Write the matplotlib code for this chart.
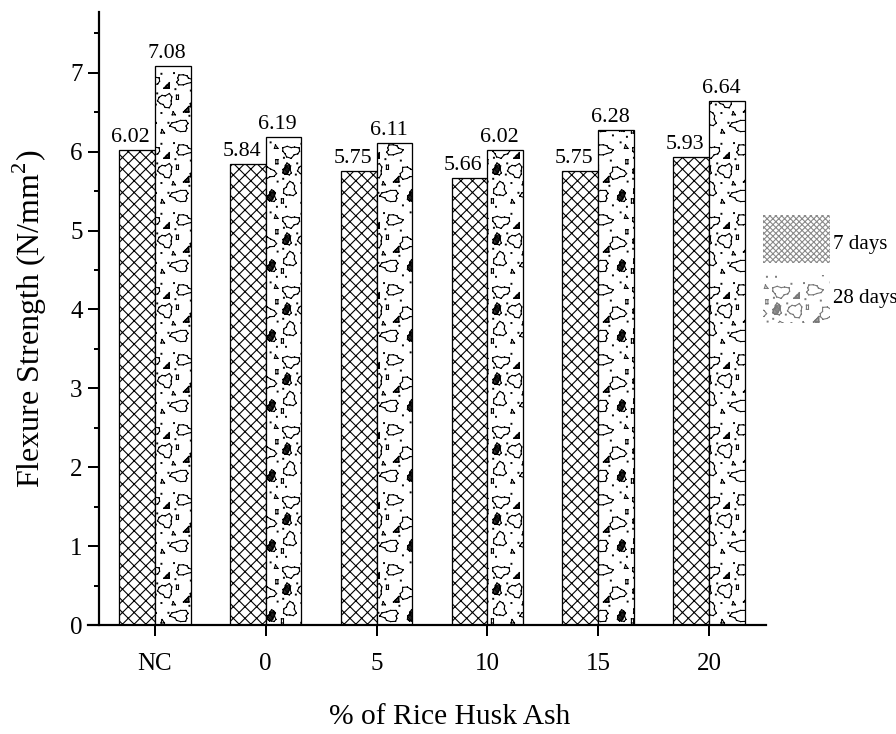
import numpy as np
import matplotlib
matplotlib.use("Agg")
import matplotlib.pyplot as plt
import matplotlib.hatch as mhatch
from matplotlib.path import Path
from matplotlib.patches import Rectangle

categories = ["NC", "0", "5", "10", "15", "20"]
days7 = [6.02, 5.84, 5.75, 5.66, 5.75, 5.93]
days28 = [7.08, 6.19, 6.11, 6.02, 6.28, 6.64]
series_labels = ["7 days", "28 days"]

DPI = 70


def px(v):
    # pixels -> points at this dpi
    return v * 72 / DPI


# ---- "gravel" texture for the 28-day bars, used in place of the '*' hatch ----
# shapes live in the hatch unit cell (0..1 = one tile of DPI pixels)
BLOB = np.array([1.0, 1.1, 0.8, 0.6, 0.95, 1.15, 1.0, 0.85, 1.1, 1.2, 0.7, 0.9])
BLOBS = [(0.16, 0.84, 0.10, 1.2, 0.85, 0), (0.62, 0.86, 0.09, 1.3, 0.8, 3),
         (0.36, 0.56, 0.10, 1.0, 1.0, 5), (0.82, 0.52, 0.095, 1.2, 0.9, 7),
         (0.14, 0.30, 0.09, 1.0, 1.1, 2), (0.58, 0.20, 0.10, 1.3, 0.8, 9)]
DARK = [(0.10, 0.58, 0.075), (0.88, 0.20, 0.075)]
WEDGES = [(0.34, 0.74, 0.08), (0.62, 0.40, 0.08)]
TRIS = [(0.92, 0.88, 0.05), (0.30, 0.10, 0.05), (0.46, 0.36, 0.045)]
RECTS = [(0.02, 0.10), (0.52, 0.58), (0.94, 0.66)]
DOTS = [(0.05, 0.74), (0.30, 0.94), (0.48, 0.95), (0.86, 0.96), (0.24, 0.66),
        (0.50, 0.72), (0.72, 0.70), (0.96, 0.40), (0.30, 0.38), (0.40, 0.24),
        (0.08, 0.04), (0.75, 0.06), (0.95, 0.04), (0.70, 0.34), (0.22, 0.50),
        (0.04, 0.44)]


def seg_path(pts, closed=True):
    a = pts if closed else pts[:-1]
    b = np.roll(pts, -1, axis=0) if closed else pts[1:]
    v = np.empty((2 * len(a), 2))
    v[0::2] = a
    v[1::2] = b
    return v, np.tile([Path.MOVETO, Path.LINETO], len(a))


def filled_path(pts):
    v = np.vstack([pts, pts[:1]])
    c = [Path.MOVETO] + [Path.LINETO] * (len(pts) - 1) + [Path.CLOSEPOLY]
    return v, np.array(c)


def blob(cx, cy, r, sx, sy, k):
    rad = np.roll(BLOB, k) * r
    ang = np.linspace(0, 2 * np.pi, len(rad), endpoint=False)
    return np.c_[cx + sx * rad * np.cos(ang), cy + sy * rad * np.sin(ang)]


def gravel_tile():
    parts = []
    for cx, cy, r, sx, sy, k in BLOBS:
        parts.append(seg_path(blob(cx, cy, r, sx, sy, k)))
    for cx, cy, r in DARK:
        parts.append(seg_path(blob(cx, cy, r, 0.8, 1.1, 2)))
        for t in np.linspace(-0.6, 0.6, 5):
            h = 0.85 * r * np.sqrt(1 - t * t)
            line = np.array([[cx + 0.8 * t * r - 0.25 * r, cy - h],
                             [cx + 0.8 * t * r + 0.25 * r, cy + h]])
            parts.append(seg_path(line, closed=False))
    for x0, y0, s in WEDGES:
        parts.append(seg_path(np.array([[x0, y0], [x0 + s, y0], [x0 + s, y0 + s]])))
        for f in (0.35, 0.6, 0.85):
            line = np.array([[x0 + f * s, y0], [x0 + f * s, y0 + f * s]])
            parts.append(seg_path(line, closed=False))
    for x0, y0, s in TRIS:
        parts.append(seg_path(np.array([[x0, y0], [x0 + s, y0], [x0 + 0.3 * s, y0 + s]])))
    for x0, y0 in RECTS:
        parts.append(seg_path(np.array([[x0, y0], [x0 + 0.03, y0],
                                        [x0 + 0.03, y0 + 0.06], [x0, y0 + 0.06]])))
    for x0, y0 in DOTS:
        d = 0.012
        parts.append(filled_path(np.array([[x0, y0], [x0 + d, y0],
                                           [x0 + d, y0 + d], [x0, y0 + d]])))
    verts = np.vstack([p[0] for p in parts])
    codes = np.concatenate([p[1] for p in parts])
    return verts, codes


class GravelHatch(mhatch.HatchPatternBase):
    def __init__(self, hatch, density):
        self.num_vertices = 0
        if "*" in hatch:
            self.verts, self.codes = gravel_tile()
            self.num_vertices = len(self.verts)

    def set_vertices_and_codes(self, vertices, codes):
        vertices[:] = self.verts
        codes[:] = self.codes


mhatch._hatch_types[:] = [t for t in mhatch._hatch_types
                          if t is not mhatch.Stars] + [GravelHatch]

plt.rcParams["font.family"] = ["Liberation Serif", "DejaVu Serif"]
plt.rcParams["mathtext.fontset"] = "custom"
plt.rcParams["mathtext.rm"] = "Liberation Serif"
plt.rcParams["hatch.linewidth"] = px(1.1)

fig = plt.figure(figsize=(896 / DPI, 734 / DPI), dpi=DPI)
ax = fig.add_axes([88 / 896, 1 - 625 / 734, 678 / 896, 613 / 734])

x = np.arange(len(categories))
w = 0.324
ax.bar(x - w / 2, days7, w, color="white", edgecolor="black", hatch="xx",
       linewidth=px(1.3), label=series_labels[0])
ax.bar(x + w / 2, days28, w, color="white", edgecolor="black", hatch="*",
       linewidth=px(1.3), label=series_labels[1])

for xi, v in zip(x - w / 2, days7):
    ax.annotate(f"{v:.2f}", (xi, v), xytext=(px(-6), px(3)), textcoords="offset points",
                ha="center", va="bottom", fontsize=px(22))
for xi, v in zip(x + w / 2, days28):
    ax.annotate(f"{v:.2f}", (xi, v), xytext=(px(-6), px(3)), textcoords="offset points",
                ha="center", va="bottom", fontsize=px(22))

ax.set_xlim(-0.6, 5.51)
ax.set_ylim(0, 7.77)
ax.spines["left"].set_position(("data", -0.505))
ax.spines["top"].set_visible(False)
ax.spines["right"].set_visible(False)
for s in ("left", "bottom"):
    ax.spines[s].set_linewidth(px(2.2))

ax.set_xticks(x)
ax.set_xticklabels(categories)
ax.set_yticks(np.arange(0, 8))
ax.set_yticks(np.arange(0.5, 7.6, 1.0), minor=True)
ax.tick_params(axis="both", which="major", direction="out", width=px(2),
               length=px(11), labelsize=px(25))
ax.tick_params(axis="x", pad=px(17))
ax.tick_params(axis="y", pad=px(5))
ax.tick_params(axis="y", which="minor", direction="out", width=px(2), length=px(5))

ax.set_ylabel(r"Flexure Strength (N/mm$^{\mathrm{2}}$)", fontsize=px(32))
ax.yaxis.set_label_coords(-0.058, 0.5)
ax.set_xlabel("% of Rice Husk Ash", fontsize=px(29.5))
ax.xaxis.set_label_coords(0.534, -0.129)

# legend drawn as swatches at the right edge
fig.add_artist(Rectangle((763 / 896, 1 - 263 / 734), 67 / 896, 48 / 734,
                         transform=fig.transFigure, facecolor="white",
                         edgecolor="#8a8a8a", hatch="xxxx", linewidth=0))
fig.add_artist(Rectangle((763 / 896, 1 - 323 / 734), 67 / 896, 48 / 734,
                         transform=fig.transFigure, facecolor="white",
                         edgecolor="#7a7a7a", hatch="*", linewidth=0))
fig.text(833 / 896, 1 - 245 / 734, series_labels[0], fontsize=px(21), va="center")
fig.text(833 / 896, 1 - 298 / 734, series_labels[1], fontsize=px(21), va="center")

fig.savefig("out.png", dpi=DPI)
